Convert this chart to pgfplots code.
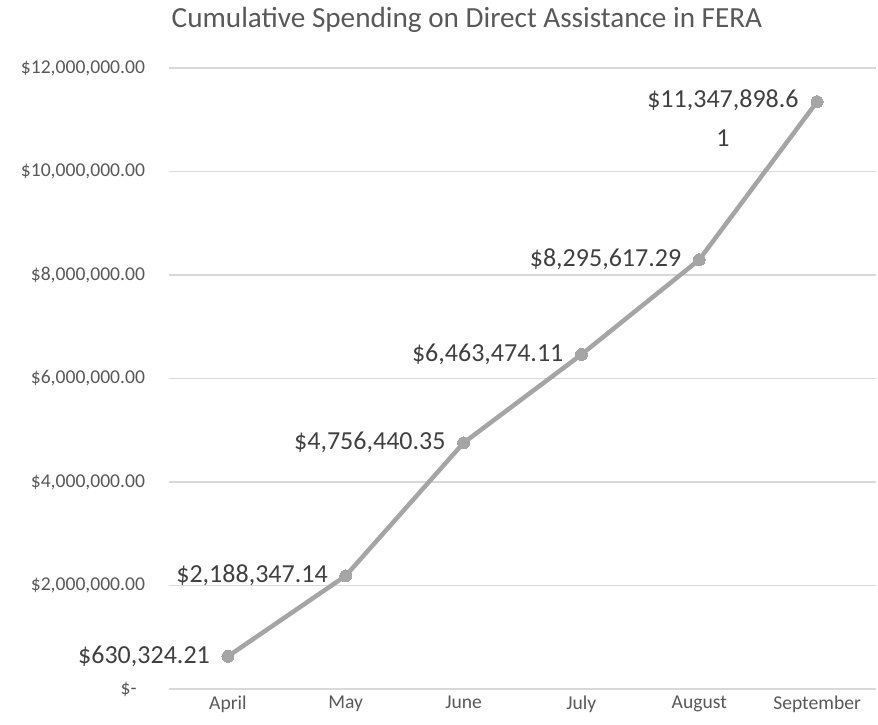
\documentclass[border=0pt]{standalone}
\usepackage{fontspec}
\setmainfont{Carlito}
\usepackage{pgfplots}
\pgfplotsset{compat=1.18}
\definecolor{linegray}{HTML}{A5A5A5}
\definecolor{gridgray}{HTML}{D9D9D9}
\definecolor{ticktext}{HTML}{595959}
\definecolor{labeltext}{HTML}{404040}
\begin{document}
\begin{tikzpicture}
\useasboundingbox (-84.5pt,-17.5pt) rectangle (354.5pt,344.5pt);
\begin{axis}[
  at={(0,0)}, anchor=south west,
  scale only axis, width=353.5pt, height=310.5pt,
  xmin=-0.5, xmax=5.5, ymin=0, ymax=12000000,
  clip=false,
  axis line style={draw=none},
  major tick length=0pt,
  xtick={0,1,2,3,4,5},
  xticklabels={April,May,June,July,August,September},
  ytick={0,2000000,4000000,6000000,8000000,10000000,12000000},
  yticklabels={{\$-\kern4.2pt\null},{\$2,000,000.00},{\$4,000,000.00},{\$6,000,000.00},{\$8,000,000.00},{\$10,000,000.00},{\$12,000,000.00}},
  scaled y ticks=false,
  ymajorgrids,
  grid style={gridgray, line width=0.75pt},
  tick label style={font=\fontsize{9.8pt}{11pt}\selectfont, text=ticktext},
  yticklabel style={anchor=east, xshift=-8.5pt},
  xticklabel style={anchor=north, yshift=0pt},
]
\addplot[linegray, line width=2.25pt, line join=round, line cap=round,
  mark=*, mark size=3pt, mark options={fill=linegray, draw=linegray, line width=0pt},
  nodes near coords, point meta=explicit symbolic,
  nodes near coords style={anchor=east, xshift=-5.7pt, font=\fontsize{13pt}{15.5pt}\selectfont, text=labeltext}]
coordinates {
  (0,630324.21) [\$630,324.21]
  (1,2188347.14) [\$2,188,347.14]
  (2,4756440.35) [\$4,756,440.35]
  (3,6463474.11) [\$6,463,474.11]
  (4,8295617.29) [\$8,295,617.29]
  (5,11347898.61) []
};
\addplot[draw=none, mark=none,
  nodes near coords, point meta=explicit symbolic,
  nodes near coords style={anchor=north east, align=center, xshift=-5.7pt, yshift=9.6pt, font=\fontsize{13pt}{19.5pt}\selectfont, text=labeltext}]
coordinates {
  (5,11347898.61) [{\$11,347,898.6\\1}]
};
\end{axis}
\node[font=\fontsize{14.6pt}{17pt}\selectfont, text=ticktext] at (149pt,334.5pt) {Cumulative Spending on Direct Assistance in FERA};
\end{tikzpicture}
\end{document}
